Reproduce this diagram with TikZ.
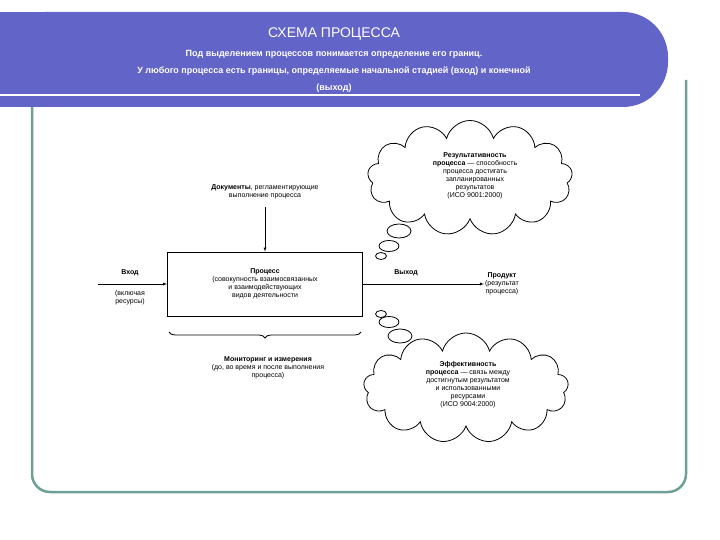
\documentclass[tikz,border=0pt]{standalone}
\usepackage{fontspec}
\setmainfont{Liberation Sans}
\usetikzlibrary{shapes.symbols,shapes.geometric,decorations.pathreplacing}
\definecolor{bandblue}{RGB}{98,100,200}
\definecolor{frameteal}{RGB}{110,160,150}
\tikzset{
  lbl/.style={align=center,font=\fontsize{7}{8}\selectfont,inner sep=1pt},
  thought/.style={cloud,cloud puffs=13,draw,thick,inner sep=0pt},
  bubble/.style={ellipse,draw,thick,inner sep=0pt},
  flow/.style={->,>=latex}
}
\begin{document}
\begin{tikzpicture}[x=1pt,y=-1pt]
  \useasboundingbox (0,0) rectangle (720,540);
  % frame and header
  \draw[frameteal,line width=2.5pt,rounded corners=18pt] (32,100) -- (32,492) -- (686,492) -- (686,80);
  \fill[bandblue,rounded corners=45pt] (0,12) -- (668,12) -- (668,107) -- (0,107) -- cycle;
  \fill[bandblue] (0,12) rectangle (60,107);
  \draw[white,line width=1.2pt] (0,95) -- (640,95);
  \node[white,font=\fontsize{14}{16}\selectfont] (title) at (334,34) {СХЕМА ПРОЦЕССА};
  \node[white,align=center,font=\bfseries\fontsize{9}{17}\selectfont] (sub) at (334,71)
    {Под выделением процессов понимается определение его границ.\\
     У любого процесса есть границы, определяемые начальной стадией (вход) и конечной\\(выход)};

  % process box
  \node[draw,thick,minimum width=195pt,minimum height=64pt,lbl] (proc) at (265,284)
    {\textbf{Процесс}\\(совокупность взаимосвязанных\\и взаимодействующих\\видов деятельности};
  \node[lbl] (docs) at (265,192) {\textbf{Документы}, регламентирующие\\выполнение процесса};
  \draw[flow] (265,207) -- (proc.north);

  % input and output
  \coordinate (inStart) at (98,284);
  \draw[flow] (inStart) -- (proc.west);
  \node[lbl] (inTop) at (130,273) {\textbf{Вход}};
  \node[lbl] (inBot) at (130,298) {(включая\\ресурсы)};
  \node[lbl] (product) at (502,284) {\textbf{Продукт}\\(результат\\процесса)};
  \draw[flow] (proc.east) -- (product.west);
  \node[lbl] (outTop) at (406,273) {\textbf{Выход}};

  % monitoring
  \draw[thick,decorate,decoration={brace,amplitude=6pt,mirror}] (169,332) -- (361,332);
  \node[lbl] (mon) at (268,368) {\textbf{Мониторинг и измерения}\\(до, во время и после выполнения\\процесса)};

  % clouds
  \node[thought,minimum width=205pt,minimum height=115pt] (res) at (470,178) {};
  \node[lbl] (resText) at (475,176) {\textbf{Результативность}\\\textbf{процесса} — способность\\процесса достигать\\запланированных\\результатов\\(ИСО 9001:2000)};
  \node[bubble,minimum width=24pt,minimum height=14pt] (rb1) at (399,231) {};
  \node[bubble,minimum width=20pt,minimum height=11pt] (rb2) at (389,246) {};
  \node[bubble,minimum width=11pt,minimum height=7pt] (rb3) at (381,256) {};

  \node[thought,minimum width=205pt,minimum height=110pt] (eff) at (466,388) {};
  \node[lbl] (effText) at (468,385) {\textbf{Эффективность}\\\textbf{процесса} — связь между\\достигнутым результатом\\и использованными\\ресурсами\\(ИСО 9004:2000)};
  \node[bubble,minimum width=11pt,minimum height=7pt] (eb1) at (381,314) {};
  \node[bubble,minimum width=20pt,minimum height=11pt] (eb2) at (389,322) {};
  \node[bubble,minimum width=24pt,minimum height=14pt] (eb3) at (400,336) {};
\end{tikzpicture}
\end{document}
